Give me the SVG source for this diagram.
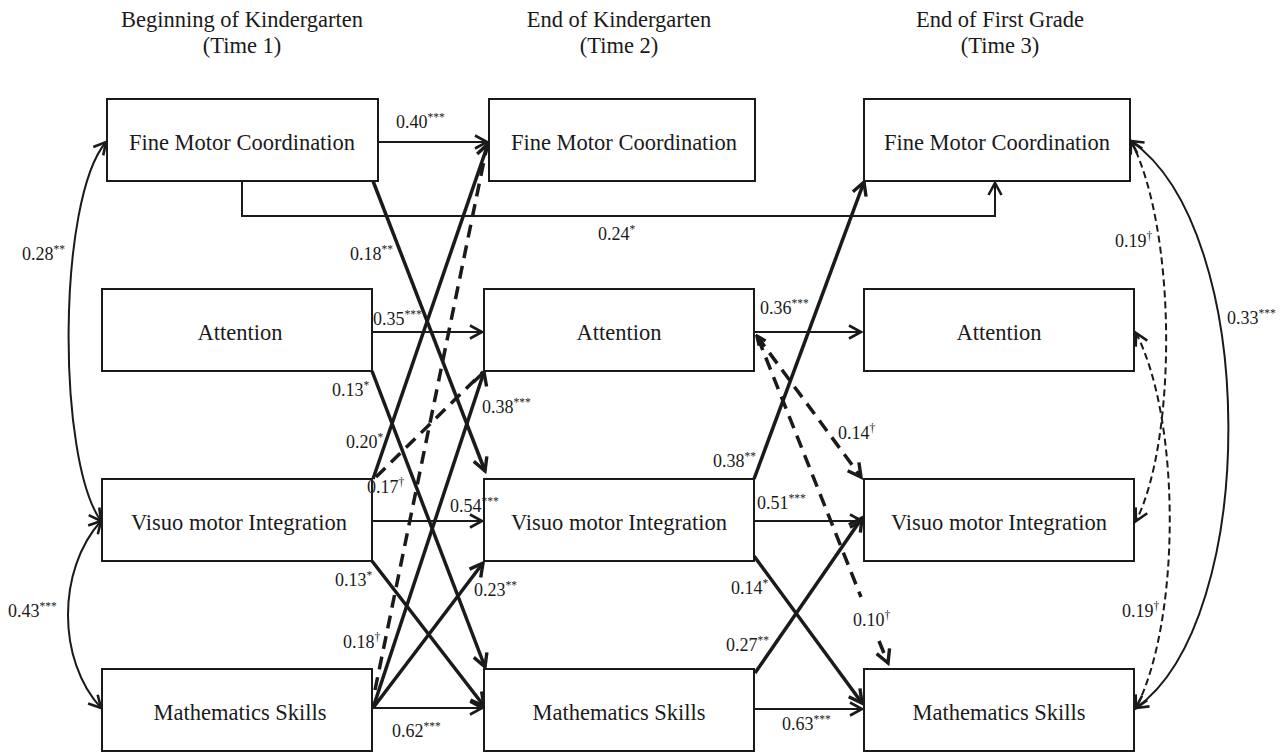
<svg xmlns="http://www.w3.org/2000/svg" width="1286" height="753" viewBox="0 0 1286 753" font-family="'Liberation Serif','Times New Roman','DejaVu Serif',serif">
<defs>
<style>
.box{fill:#fff;stroke:#1a1a1a;stroke-width:2}
.lbl{font-family:"Liberation Serif","Times New Roman","DejaVu Serif",serif;font-size:22.5px;fill:#1a1a1a;text-anchor:middle}
.t{font-family:"Liberation Serif","Times New Roman","DejaVu Serif",serif;font-size:18px;fill:#1a1a1a}
.s{font-size:11.5px}
.thin{fill:none;stroke:#1a1a1a;stroke-width:2}
.thick{fill:none;stroke:#1a1a1a;stroke-width:3.5}
.dash{stroke-dasharray:13 8}
.sdash{stroke-dasharray:7 4}
</style>
<marker id="a" markerUnits="userSpaceOnUse" markerWidth="18" markerHeight="18" viewBox="0 0 18 18" refX="15" refY="9" orient="auto-start-reverse"><path d="M3,2.5 L15,9 L3,15.5" fill="none" stroke="#1a1a1a" stroke-width="2.6"/></marker>
<marker id="b" markerUnits="userSpaceOnUse" markerWidth="20" markerHeight="20" viewBox="0 0 20 20" refX="17" refY="10" orient="auto-start-reverse"><path d="M4,3 L17,10 L4,17" fill="none" stroke="#1a1a1a" stroke-width="3.4"/></marker>
<marker id="c" markerUnits="userSpaceOnUse" markerWidth="14" markerHeight="14" viewBox="0 0 14 14" refX="12" refY="7" orient="auto-start-reverse"><path d="M3,3 L12,7 L3,11" fill="none" stroke="#1a1a1a" stroke-width="3.4"/></marker>
</defs>
<rect width="1286" height="753" fill="#fff"/>

<g id="titles">
<text class="lbl" x="242" y="27">Beginning of Kindergarten</text>
<text class="lbl" x="242" y="53">(Time 1)</text>
<text class="lbl" x="619" y="27">End of Kindergarten</text>
<text class="lbl" x="619" y="53">(Time 2)</text>
<text class="lbl" x="1000" y="27">End of First Grade</text>
<text class="lbl" x="1000" y="53">(Time 3)</text>
</g>

<g id="connectors">
<path class="thin" d="M378,142 H487" marker-end="url(#a)"/>
<path class="thin" d="M242,181 V216 H995 V183" marker-end="url(#a)"/>
<path class="thin" d="M372,332 H482" marker-end="url(#a)"/>
<path class="thin" d="M372,521 H482" marker-end="url(#a)"/>
<path class="thin" d="M372,708 H482" marker-end="url(#a)"/>
<path class="thin" d="M754,332 H861" marker-end="url(#a)"/>
<path class="thin" d="M754,521 H862" marker-end="url(#a)"/>
<path class="thin" d="M754,709 H862" marker-end="url(#a)"/>

<path class="thick" d="M373,181 L485,471" marker-end="url(#b)"/>
<path class="thick" d="M372,371 L485,667" marker-end="url(#b)"/>
<path class="thick" d="M373,479 L488,144" marker-end="url(#b)"/>
<path class="thick" d="M372,561 L484,706" marker-end="url(#b)"/>
<path class="thick" d="M373,708 L484,372" marker-end="url(#b)"/>
<path class="thick" d="M373,708 L483,563" marker-end="url(#b)"/>
<path class="thick" d="M754,479 L864,182" marker-end="url(#b)"/>
<path class="thick" d="M754,556 L862,703" marker-end="url(#b)"/>
<path class="thick" d="M755,673 L862,518" marker-end="url(#b)"/>

<path class="thick dash" d="M376,477 L483,372"/>
<path class="thick dash" d="M375,690 L487,146"/>
<path class="thick dash" d="M757,336 L861,477" marker-start="url(#c)" marker-end="url(#b)"/>
<path class="thick dash" d="M758,338 L861,597"/>
<path class="thick dash" d="M879,641 L888,663" marker-end="url(#b)"/>

<path class="thin" d="M106,142 C57,200 57,460 101,521" marker-start="url(#a)" marker-end="url(#a)"/>
<path class="thin" d="M101,521 C57,570 57,660 101,708" marker-start="url(#a)" marker-end="url(#a)"/>
<path class="thin" d="M1131,141 C1260,230 1260,620 1136,708" marker-start="url(#a)" marker-end="url(#a)"/>
<path class="thin sdash" d="M1131,141 C1177,230 1177,440 1136,521" marker-start="url(#a)" marker-end="url(#a)"/>
<path class="thin sdash" d="M1136,333 C1181,420 1181,620 1136,708" marker-start="url(#a)" marker-end="url(#a)"/>
</g>

<g id="fmc1"><rect class="box" x="107" y="99" width="271" height="82"/><text class="lbl" x="242" y="150">Fine Motor Coordination</text></g>
<g id="att1"><rect class="box" x="102" y="289" width="270" height="82"/><text class="lbl" x="240" y="340">Attention</text></g>
<g id="vmi1"><rect class="box" x="102" y="479" width="270" height="82"/><text class="lbl" x="239" y="530">Visuo motor Integration</text></g>
<g id="math1"><rect class="box" x="102" y="669" width="270" height="82"/><text class="lbl" x="240" y="720">Mathematics Skills</text></g>

<g id="fmc2"><rect class="box" x="489" y="99" width="266" height="82"/><text class="lbl" x="624" y="150">Fine Motor Coordination</text></g>
<g id="att2"><rect class="box" x="484" y="289" width="270" height="82"/><text class="lbl" x="619" y="340">Attention</text></g>
<g id="vmi2"><rect class="box" x="484" y="479" width="270" height="82"/><text class="lbl" x="619" y="530">Visuo motor Integration</text></g>
<g id="math2"><rect class="box" x="484" y="669" width="270" height="82"/><text class="lbl" x="619" y="720">Mathematics Skills</text></g>

<g id="fmc3"><rect class="box" x="864" y="99" width="266" height="82"/><text class="lbl" x="997" y="150">Fine Motor Coordination</text></g>
<g id="att3"><rect class="box" x="864" y="289" width="270" height="82"/><text class="lbl" x="999" y="340">Attention</text></g>
<g id="vmi3"><rect class="box" x="864" y="479" width="270" height="82"/><text class="lbl" x="999" y="530">Visuo motor Integration</text></g>
<g id="math3"><rect class="box" x="864" y="669" width="270" height="82"/><text class="lbl" x="999" y="720">Mathematics Skills</text></g>

<g id="edge-labels">
<text class="t" x="396" y="128">0.40<tspan class="s" dy="-7">***</tspan></text>
<text class="t" x="598" y="240">0.24<tspan class="s" dy="-7">*</tspan></text>
<text class="t" x="350" y="260">0.18<tspan class="s" dy="-7">**</tspan></text>
<text class="t" x="22" y="260">0.28<tspan class="s" dy="-7">**</tspan></text>
<text class="t" x="373" y="325">0.35<tspan class="s" dy="-7">***</tspan></text>
<text class="t" x="332" y="396">0.13<tspan class="s" dy="-7">*</tspan></text>
<text class="t" x="482" y="413">0.38<tspan class="s" dy="-7">***</tspan></text>
<text class="t" x="346" y="448">0.20<tspan class="s" dy="-7">*</tspan></text>
<text class="t" x="367" y="493">0.17<tspan class="s" dy="-7">†</tspan></text>
<text class="t" x="450" y="512">0.54<tspan class="s" dy="-7">***</tspan></text>
<text class="t" x="335" y="586">0.13<tspan class="s" dy="-7">*</tspan></text>
<text class="t" x="474" y="596">0.23<tspan class="s" dy="-7">**</tspan></text>
<text class="t" x="343" y="648">0.18<tspan class="s" dy="-7">†</tspan></text>
<text class="t" x="392" y="737">0.62<tspan class="s" dy="-7">***</tspan></text>
<text class="t" x="8" y="617">0.43<tspan class="s" dy="-7">***</tspan></text>
<text class="t" x="760" y="314">0.36<tspan class="s" dy="-7">***</tspan></text>
<text class="t" x="838" y="439">0.14<tspan class="s" dy="-7">†</tspan></text>
<text class="t" x="713" y="467">0.38<tspan class="s" dy="-7">**</tspan></text>
<text class="t" x="757" y="509">0.51<tspan class="s" dy="-7">***</tspan></text>
<text class="t" x="731" y="594">0.14<tspan class="s" dy="-7">*</tspan></text>
<text class="t" x="726" y="651">0.27<tspan class="s" dy="-7">**</tspan></text>
<text class="t" x="853" y="626">0.10<tspan class="s" dy="-7">†</tspan></text>
<text class="t" x="782" y="730">0.63<tspan class="s" dy="-7">***</tspan></text>
<text class="t" x="1115" y="247">0.19<tspan class="s" dy="-7">†</tspan></text>
<text class="t" x="1227" y="324">0.33<tspan class="s" dy="-7">***</tspan></text>
<text class="t" x="1122" y="617">0.19<tspan class="s" dy="-7">†</tspan></text>
</g>
</svg>
